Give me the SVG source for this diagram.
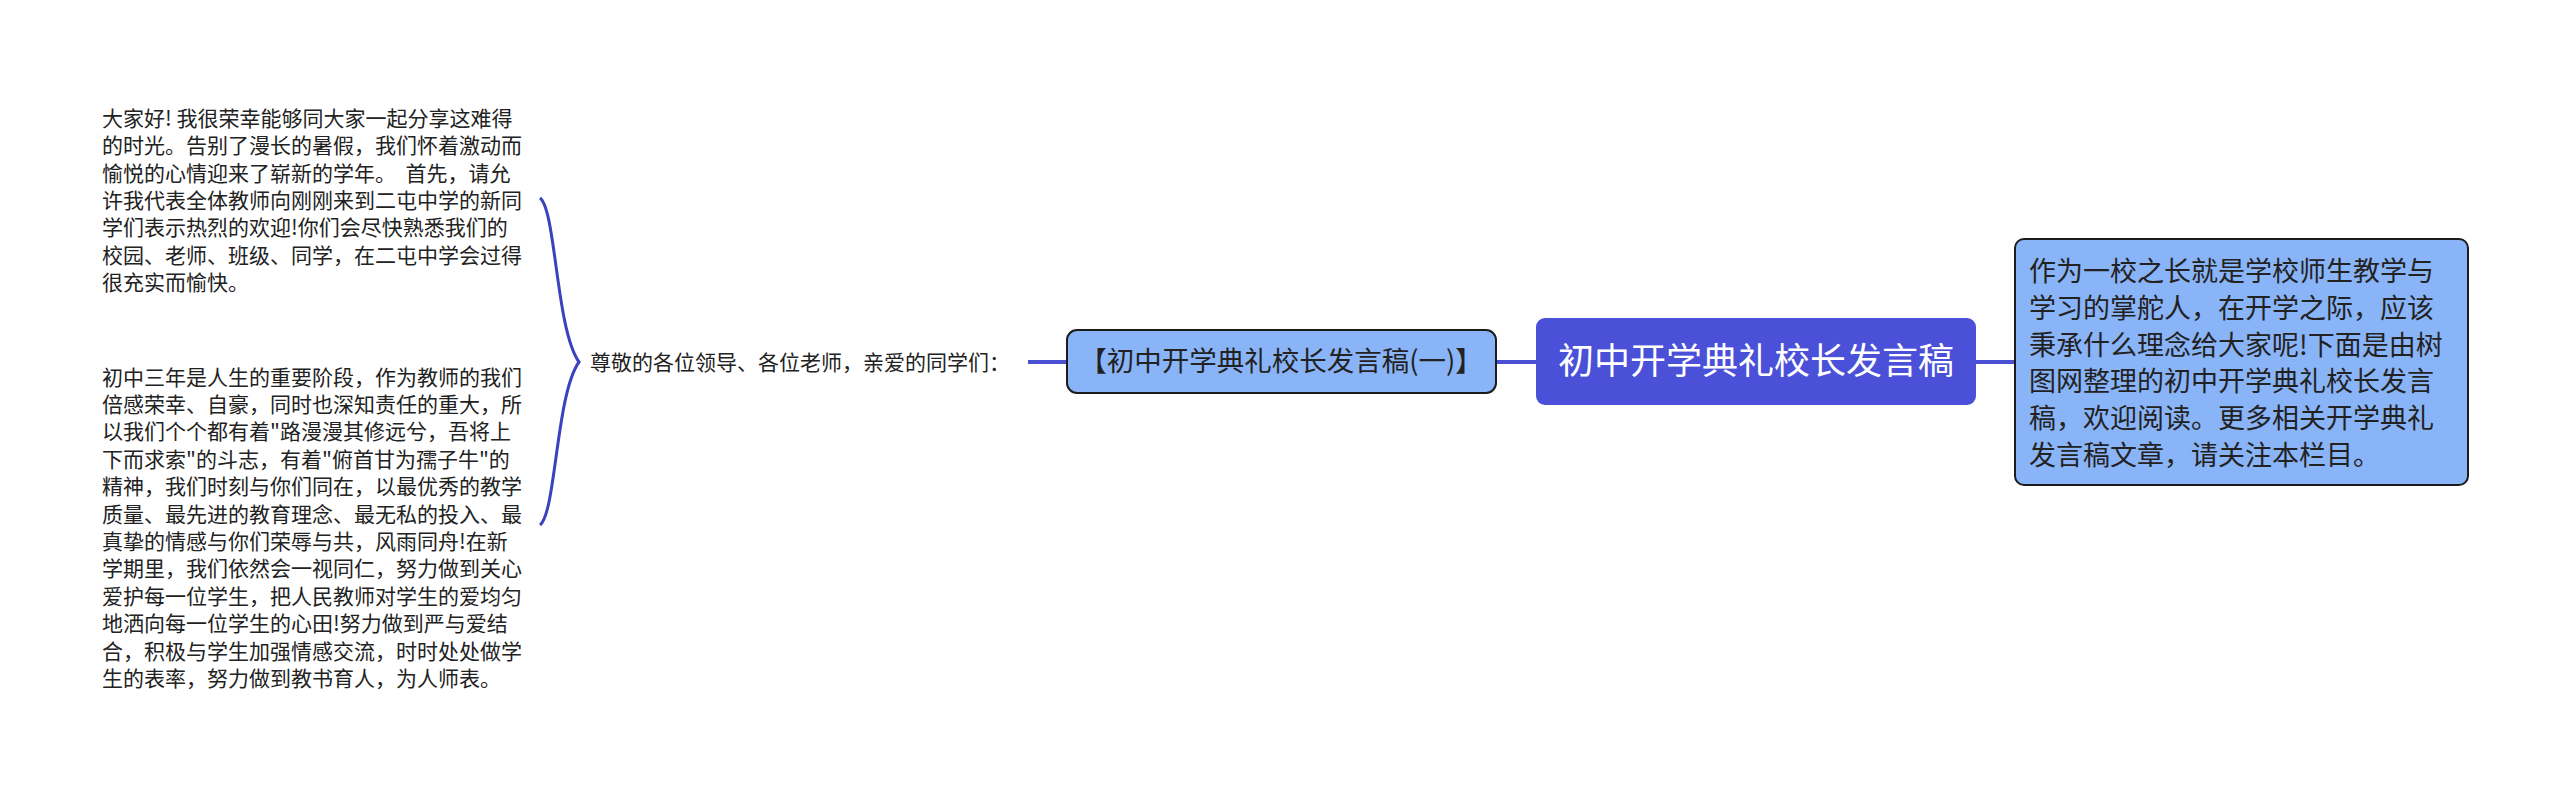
<svg xmlns="http://www.w3.org/2000/svg" width="2560" height="793" viewBox="0 0 2560 793">
<style>
text{font-family:"Noto Sans CJK SC","Noto Sans",sans-serif;fill:#222;}
.p{font-size:21px;}
.r{font-size:27px;}
.con{fill:none;stroke:#4a50d4;stroke-width:4;}
.brace{fill:none;stroke:#3a43bd;stroke-width:3;}
.light{fill:#8ab4f8;stroke:#1c1c1c;stroke-width:2;}
</style>
<rect width="2560" height="793" fill="#ffffff"/>
<g id="connectors">
<line class="con" x1="1976" y1="362" x2="2015" y2="362"/>
<line class="con" x1="1496" y1="362" x2="1536" y2="362"/>
<line class="con" x1="1028" y1="362" x2="1067" y2="362" stroke-width="3.5"/>
<path class="brace" d="M540 198 C556 210 556 330 579 362 C556 394 556 513 540 525"/>
</g>
<g id="root">
<rect x="1536" y="318" width="440" height="87" rx="9" fill="#4a50d8"/>
<text x="1756" y="374" font-size="36" text-anchor="middle" style="fill:#ffffff">初中开学典礼校长发言稿</text>
</g>
<g id="summary">
<rect class="light" x="2015" y="239" width="453" height="246" rx="9"/>
<text class="r" x="2029" y="281">作为一校之长就是学校师生教学与</text>
<text class="r" x="2029" y="318">学习的掌舵人，在开学之际，应该</text>
<text class="r" x="2029" y="354.5">秉承什么理念给大家呢!下面是由树</text>
<text class="r" x="2029" y="391">图网整理的初中开学典礼校长发言</text>
<text class="r" x="2029" y="428">稿，欢迎阅读。更多相关开学典礼</text>
<text class="r" x="2029" y="464.5">发言稿文章，请关注本栏目。</text>
</g>
<g id="sub">
<rect class="light" x="1067" y="330" width="429" height="63" rx="10"/>
<text x="1281" y="371" font-size="27.5" text-anchor="middle">【初中开学典礼校长发言稿(一)】</text>
</g>
<g id="label">
<text class="p" x="590" y="369.5">尊敬的各位领导、各位老师，亲爱的同学们：</text>
</g>
<g id="para1">
<text class="p" x="102" y="126" xml:space="preserve">大家好! 我很荣幸能够同大家一起分享这难得</text>
<text class="p" x="102" y="153.3">的时光。告别了漫长的暑假，我们怀着激动而</text>
<text class="p" x="102" y="180.6" xml:space="preserve">愉悦的心情迎来了崭新的学年。  首先，请允</text>
<text class="p" x="102" y="207.9">许我代表全体教师向刚刚来到二屯中学的新同</text>
<text class="p" x="102" y="235.2">学们表示热烈的欢迎!你们会尽快熟悉我们的</text>
<text class="p" x="102" y="262.5">校园、老师、班级、同学，在二屯中学会过得</text>
<text class="p" x="102" y="289.8">很充实而愉快。</text>
</g>
<g id="para2">
<text class="p" x="102" y="384.5">初中三年是人生的重要阶段，作为教师的我们</text>
<text class="p" x="102" y="411.9">倍感荣幸、自豪，同时也深知责任的重大，所</text>
<text class="p" x="102" y="439.3">以我们个个都有着"路漫漫其修远兮，吾将上</text>
<text class="p" x="102" y="466.7">下而求索"的斗志，有着"俯首甘为孺子牛"的</text>
<text class="p" x="102" y="494.1">精神，我们时刻与你们同在，以最优秀的教学</text>
<text class="p" x="102" y="521.5">质量、最先进的教育理念、最无私的投入、最</text>
<text class="p" x="102" y="548.9">真挚的情感与你们荣辱与共，风雨同舟!在新</text>
<text class="p" x="102" y="576.3">学期里，我们依然会一视同仁，努力做到关心</text>
<text class="p" x="102" y="603.7">爱护每一位学生，把人民教师对学生的爱均匀</text>
<text class="p" x="102" y="631.1">地洒向每一位学生的心田!努力做到严与爱结</text>
<text class="p" x="102" y="658.5">合，积极与学生加强情感交流，时时处处做学</text>
<text class="p" x="102" y="685.9">生的表率，努力做到教书育人，为人师表。</text>
</g>
</svg>
